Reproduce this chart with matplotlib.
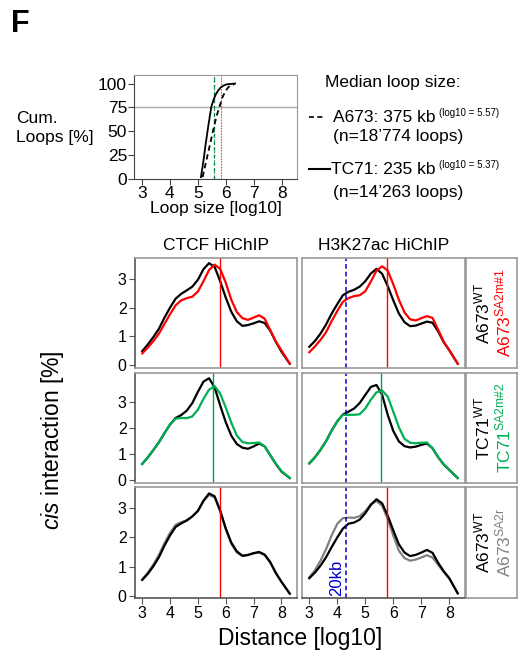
import numpy as np
import matplotlib
matplotlib.use('Agg')
import matplotlib.pyplot as plt
from matplotlib.lines import Line2D

plt.rcParams['font.family'] = ['Liberation Sans', 'DejaVu Sans']
plt.rcParams['mathtext.fontset'] = 'custom'
plt.rcParams['mathtext.rm'] = 'Liberation Sans'
plt.rcParams['mathtext.it'] = 'Liberation Sans:italic'

# cumulative loop size distribution (top panel)
tc71_cum_x = [5.11, 5.20, 5.28, 5.38, 5.48, 5.56, 5.63, 5.72, 5.81, 5.92, 6.04, 6.33]
tc71_cum_y = [2, 19, 37, 57, 75.6, 83, 88, 92.5, 95.8, 98, 99.3, 100]
a673_cum_x = [5.17, 5.27, 5.37, 5.47, 5.57, 5.67, 5.77, 5.87, 5.97, 6.07, 6.16, 6.30]
a673_cum_y = [2, 15, 28, 41, 54, 66, 75.6, 85, 91.3, 95.5, 98.3, 99.3]
tc71_median = 5.56
a673_median = 5.82

# cis interaction profiles (x = log10 distance)
dist = [3.0, 3.2, 3.4, 3.6, 3.8, 4.0, 4.2, 4.4, 4.6, 4.8, 5.0, 5.2, 5.4,
        5.6, 5.8, 6.0, 6.2, 6.4, 6.6, 6.8, 7.0, 7.2, 7.4, 7.6, 7.8, 8.0, 8.3]

ctcf_a673_wt = [0.49, 0.72, 0.98, 1.27, 1.66, 2.01, 2.32, 2.49, 2.61, 2.74, 2.98, 3.35, 3.56,
                3.43, 2.93, 2.36, 1.86, 1.53, 1.37, 1.40, 1.46, 1.53, 1.47, 1.20, 0.82, 0.47, 0.05]
ctcf_a673_sa2m1 = [0.41, 0.61, 0.84, 1.10, 1.44, 1.78, 2.09, 2.26, 2.34, 2.39, 2.57, 2.93, 3.32,
                   3.51, 3.36, 2.88, 2.28, 1.85, 1.64, 1.58, 1.66, 1.74, 1.62, 1.22, 0.82, 0.52, 0.05]
h3k_a673_wt = [0.64, 0.84, 1.10, 1.42, 1.80, 2.13, 2.44, 2.56, 2.63, 2.74, 2.93, 3.20, 3.36,
               3.19, 2.76, 2.26, 1.80, 1.50, 1.36, 1.38, 1.45, 1.52, 1.48, 1.18, 0.80, 0.52, 0.05]
h3k_a673_sa2m1 = [0.45, 0.65, 0.88, 1.15, 1.54, 1.89, 2.21, 2.34, 2.41, 2.44, 2.58, 2.92, 3.30,
                  3.45, 3.30, 2.82, 2.28, 1.84, 1.60, 1.56, 1.64, 1.71, 1.65, 1.24, 0.82, 0.52, 0.05]

ctcf_tc71_wt = [0.62, 0.87, 1.15, 1.45, 1.80, 2.13, 2.38, 2.49, 2.66, 2.95, 3.38, 3.77, 3.90,
                3.55, 2.86, 2.22, 1.70, 1.38, 1.24, 1.20, 1.29, 1.40, 1.29, 0.95, 0.62, 0.33, 0.08]
ctcf_tc71_sa2m2 = [0.62, 0.87, 1.15, 1.45, 1.80, 2.13, 2.35, 2.38, 2.37, 2.44, 2.70, 3.11, 3.46,
                   3.60, 3.31, 2.78, 2.20, 1.70, 1.46, 1.41, 1.42, 1.44, 1.29, 0.95, 0.62, 0.35, 0.08]
h3k_tc71_wt = [0.64, 0.87, 1.16, 1.49, 1.90, 2.25, 2.51, 2.62, 2.74, 2.95, 3.26, 3.57, 3.64,
               3.27, 2.50, 1.88, 1.48, 1.30, 1.25, 1.28, 1.35, 1.40, 1.22, 0.88, 0.60, 0.39, 0.08]
h3k_tc71_sa2m2 = [0.64, 0.87, 1.16, 1.49, 1.90, 2.25, 2.50, 2.50, 2.50, 2.52, 2.74, 3.08, 3.36,
                  3.43, 3.20, 2.62, 2.02, 1.58, 1.43, 1.41, 1.43, 1.44, 1.22, 0.88, 0.60, 0.39, 0.08]

ctcf_a673_wt_b = [0.54, 0.75, 1.01, 1.32, 1.72, 2.07, 2.36, 2.48, 2.58, 2.72, 2.91, 3.26, 3.51,
                  3.41, 2.92, 2.31, 1.82, 1.52, 1.37, 1.40, 1.46, 1.50, 1.41, 1.15, 0.78, 0.48, 0.07]
ctcf_a673_sa2r = [0.56, 0.79, 1.07, 1.40, 1.80, 2.16, 2.43, 2.52, 2.59, 2.72, 2.91, 3.24, 3.46,
                  3.37, 2.90, 2.28, 1.78, 1.48, 1.36, 1.39, 1.45, 1.48, 1.39, 1.13, 0.77, 0.47, 0.07]
h3k_a673_wt_b = [0.60, 0.79, 1.03, 1.32, 1.67, 2.00, 2.30, 2.47, 2.51, 2.61, 2.83, 3.12, 3.31,
                 3.17, 2.75, 2.24, 1.76, 1.48, 1.36, 1.40, 1.48, 1.57, 1.47, 1.13, 0.84, 0.60, 0.08]
h3k_a673_sa2r = [0.63, 0.87, 1.20, 1.60, 2.07, 2.47, 2.66, 2.68, 2.67, 2.73, 2.90, 3.14, 3.25,
                 3.09, 2.63, 2.06, 1.54, 1.29, 1.20, 1.24, 1.31, 1.39, 1.31, 1.06, 0.81, 0.58, 0.08]

median_a673 = 5.79
median_tc71 = 5.55
mark_20kb = np.log10(20000)

col_titles = ['CTCF HiChIP', 'H3K27ac HiChIP']
row_names = [('A673', 'WT', 'A673', 'SA2m#1'), ('TC71', 'WT', 'TC71', 'SA2m#2'), ('A673', 'WT', 'A673', 'SA2r')]
row_colors = ['#ff0000', '#00b050', '#808080']

rows = [
    [(ctcf_a673_wt, ctcf_a673_sa2m1), (h3k_a673_wt, h3k_a673_sa2m1)],
    [(ctcf_tc71_wt, ctcf_tc71_sa2m2), (h3k_tc71_wt, h3k_tc71_sa2m2)],
    [(ctcf_a673_wt_b, ctcf_a673_sa2r), (h3k_a673_wt_b, h3k_a673_sa2r)],
]
row_medians = [median_a673, median_tc71, median_a673]
row_vcolors = ['#ff0000', '#00a050', '#ff0000']
row_ylim = [(-0.1, 3.74), (-0.11, 4.1), (-0.08, 3.73)]

W, H = 526.0, 658.0
fig = plt.figure(figsize=(5.26, 6.58), dpi=100)

def fx(px):
    return px / W

def fy(py):
    return 1 - py / H

fig.text(fx(20), fy(24), 'F', fontsize=22, fontweight='bold', ha='center', va='center')

# --- top: cumulative loop sizes
ax0 = fig.add_axes([fx(134), fy(179), fx(297) - fx(134), fy(75) - fy(179)])
ax0.axhline(75, color='#aaaaaa', lw=1, zorder=0)
ax0.axvline(tc71_median, color='#00b050', lw=1, ls=(0, (3, 2)))
ax0.axvline(tc71_median, color='k', lw=0.6, ls=(3, (1, 4)))
ax0.axvline(a673_median, color='#ff4040', lw=0.8, ls=(0, (1.5, 1)))
ax0.plot(a673_cum_x, a673_cum_y, color='k', lw=1.3, ls=(0, (3, 2)))
ax0.plot(tc71_cum_x, tc71_cum_y, color='k', lw=1.3)
ax0.set_xlim(2.72, 8.54)
ax0.set_ylim(0, 109)
ax0.set_xticks([3, 4, 5, 6, 7, 8])
ax0.set_yticks([0, 25, 50, 75, 100])
ax0.tick_params(labelsize=12.5, length=4, pad=1, color='#444444')
ax0.set_xlabel('Loop size [log10]', fontsize=12.5, labelpad=0)
for s in ['top', 'right']:
    ax0.spines[s].set_color('#999999')
for s in ['left', 'bottom']:
    ax0.spines[s].set_color('#444444')
fig.text(fx(16), fy(128), 'Cum.\nLoops [%]', fontsize=12.5, ha='left', va='center', linespacing=1.3)

# legend-like text on the right
fig.text(fx(325), fy(83), 'Median loop size:', fontsize=12.5, ha='left', va='center')
fig.add_artist(Line2D([fx(309), fx(324)], [fy(117), fy(117)], color='k', lw=1.2, ls=(0, (3, 2))))
fig.text(fx(333), fy(117), 'A673: 375 kb', fontsize=12.5, ha='left', va='center')
fig.text(fx(439), fy(113), '(log10 = 5.57)', fontsize=7, ha='left', va='center')
fig.text(fx(333), fy(137), '(n=18\u2019774 loops)', fontsize=12.5, ha='left', va='center')
fig.add_artist(Line2D([fx(309), fx(330)], [fy(169), fy(169)], color='k', lw=1.5))
fig.text(fx(331), fy(169), 'TC71: 235 kb', fontsize=12.5, ha='left', va='center')
fig.text(fx(439), fy(165), '(log10 = 5.37)', fontsize=7, ha='left', va='center')
fig.text(fx(333), fy(192), '(n=14\u2019263 loops)', fontsize=12.5, ha='left', va='center')

# --- main grid
col_x = [(135, 297), (302, 465)]
box_x = (466, 517)
row_y = [(258, 368), (373, 483), (487, 598)]

for c, t in enumerate(col_titles):
    fig.text(fx((col_x[c][0] + col_x[c][1]) / 2), fy(245), t, fontsize=12.5, ha='center', va='center')

for r in range(3):
    y0, y1 = row_y[r]
    for c in range(2):
        x0, x1 = col_x[c]
        ax = fig.add_axes([fx(x0), fy(y1), fx(x1) - fx(x0), fy(y0) - fy(y1)])
        wt, mut = rows[r][c]
        if r == 2:
            ax.plot(dist, mut, color=row_colors[r], lw=1.6)
            ax.plot(dist, wt, color='k', lw=1.6)
        else:
            ax.plot(dist, wt, color='k', lw=1.6)
            ax.plot(dist, mut, color=row_colors[r], lw=1.6)
        ax.axvline(row_medians[r], color=row_vcolors[r], lw=1)
        if c == 1:
            ax.axvline(mark_20kb, color='#0000cc', lw=1.1, ls=(0, (3, 2)))
        ax.set_xlim(2.74, 8.56)
        ax.set_ylim(*row_ylim[r])
        for s in ax.spines.values():
            s.set_color('#999999')
            s.set_linewidth(1.2)
        if c == 0:
            ax.set_yticks([0, 1, 2, 3])
            ax.spines['left'].set_color('#555555')
        else:
            ax.set_yticks([])
        if r == 2:
            ax.set_xticks([3, 4, 5, 6, 7, 8])
            ax.spines['bottom'].set_color('#555555')
        else:
            ax.set_xticks([])
        ax.tick_params(labelsize=11.5, length=4, pad=2, color='#555555')
        if r == 2 and c == 1:
            ax.text(mark_20kb - 0.07, 0.0, '20kb', rotation=90, color='#0000cc', fontsize=12,
                    ha='right', va='bottom')
    # label box
    bx = fig.add_axes([fx(box_x[0]), fy(y1), fx(box_x[1]) - fx(box_x[0]), fy(y0) - fy(y1)])
    bx.set_xticks([])
    bx.set_yticks([])
    for s in bx.spines.values():
        s.set_color('#999999')
        s.set_linewidth(1.2)
    n1, s1, n2, s2 = row_names[r]
    yc = fy((y0 + y1) / 2)
    fig.text(fx(482), yc, n1 + r'$^{\mathrm{' + s1 + '}}$', rotation=90, fontsize=12.5,
             color='k', ha='center', va='center')
    fig.text(fx(503), yc, n2 + r'$^{\mathrm{' + s2.replace('#', r'\#') + '}}$', rotation=90,
             fontsize=12.5, color=row_colors[r], ha='center', va='center')

fig.text(fx(52), fy(440), r'$\mathit{cis}$ interaction [%]', rotation=90, fontsize=16.5,
         ha='center', va='center')
fig.text(fx(300), fy(638), 'Distance [log10]', fontsize=16.5, ha='center', va='center')

fig.savefig('out.png', dpi=100)
